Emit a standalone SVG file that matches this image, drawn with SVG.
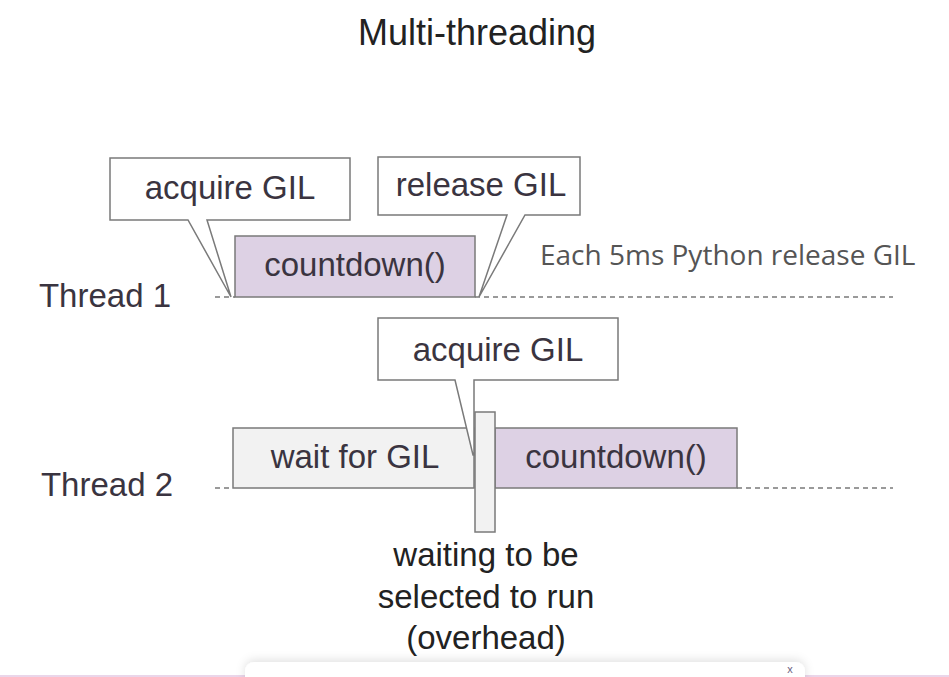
<svg xmlns="http://www.w3.org/2000/svg" width="949" height="677" viewBox="0 0 949 677">
<defs>
<style>
.lbl{font-family:"Liberation Sans",Arial,sans-serif;font-size:33px;fill:#3a3440;text-anchor:middle}
.dark{fill:#222}
.box{fill:#ffffff;stroke:#7a7a7a;stroke-width:1.5}
.run{fill:#ddd1e4;stroke:#7a7a7a;stroke-width:1.5}
.wait{fill:#f2f2f2;stroke:#7a7a7a;stroke-width:1.5}
.dash{stroke:#9a9a9a;stroke-width:2;stroke-dasharray:5 4;fill:none}
.note{font-family:"Open Sans","Noto Sans",sans-serif;font-size:28px;fill:#555}
</style>
<filter id="sh" x="-10%" y="-100%" width="120%" height="300%">
<feDropShadow dx="0" dy="-2" stdDeviation="5" flood-color="#000" flood-opacity="0.12"/>
</filter>
</defs>
<rect width="949" height="677" fill="#ffffff"/>

<text id="title" class="lbl dark" x="477" y="45" style="font-size:36px">Multi-threading</text>

<g id="connectors">
<line class="dash" x1="215" y1="297" x2="235" y2="297"/>
<line class="dash" x1="475" y1="297" x2="893" y2="297"/>
<line class="dash" x1="215" y1="488" x2="233" y2="488"/>
<line class="dash" x1="737" y1="488" x2="893" y2="488"/>
</g>

<g id="thread1-label"><text class="lbl" x="105" y="307">Thread 1</text></g>
<g id="thread2-label"><text class="lbl" x="107" y="496">Thread 2</text></g>

<g id="countdown1">
<rect class="run" x="235" y="236" width="240" height="61"/>
<text class="lbl" x="355" y="276">countdown()</text>
</g>

<g id="acquire1">
<path class="box" d="M110,158 H350 V220 H207 L231,297 L188,220 H110 Z"/>
<text class="lbl" x="230" y="199">acquire GIL</text>
</g>

<g id="release1">
<path class="box" d="M378,157 H580 V215 H525 L479,297 L507,215 H378 Z"/>
<text class="lbl" x="481" y="196">release GIL</text>
</g>

<g id="note"><text class="note" x="540" y="265">Each 5ms Python release GIL</text></g>

<g id="wait2">
<rect class="wait" x="233" y="428" width="241" height="60"/>
<text class="lbl" x="355" y="468">wait for GIL</text>
</g>

<g id="countdown2">
<rect class="run" x="495" y="428" width="242" height="60"/>
<text class="lbl" x="616" y="468">countdown()</text>
</g>

<g id="acquire2">
<path class="box" d="M378,318 H618 V380 H474 V455 L473,455 L455,380 H378 Z"/>
<text class="lbl" x="498" y="361">acquire GIL</text>
</g>

<g id="bar">
<rect class="wait" x="475" y="412" width="20" height="120"/>
</g>

<g id="overhead">
<text class="lbl dark" x="486" y="566">waiting to be</text>
<text class="lbl dark" x="486" y="608">selected to run</text>
<text class="lbl dark" x="486" y="649">(overhead)</text>
</g>

<line x1="0" y1="676" x2="949" y2="676" stroke="#ead6ea" stroke-width="2"/>
<rect x="245" y="662" width="560" height="30" rx="9" fill="#ffffff" filter="url(#sh)"/>
<text x="790" y="673" font-family="Liberation Sans,sans-serif" font-size="11" fill="#6b5f80" text-anchor="middle">x</text>
</svg>
